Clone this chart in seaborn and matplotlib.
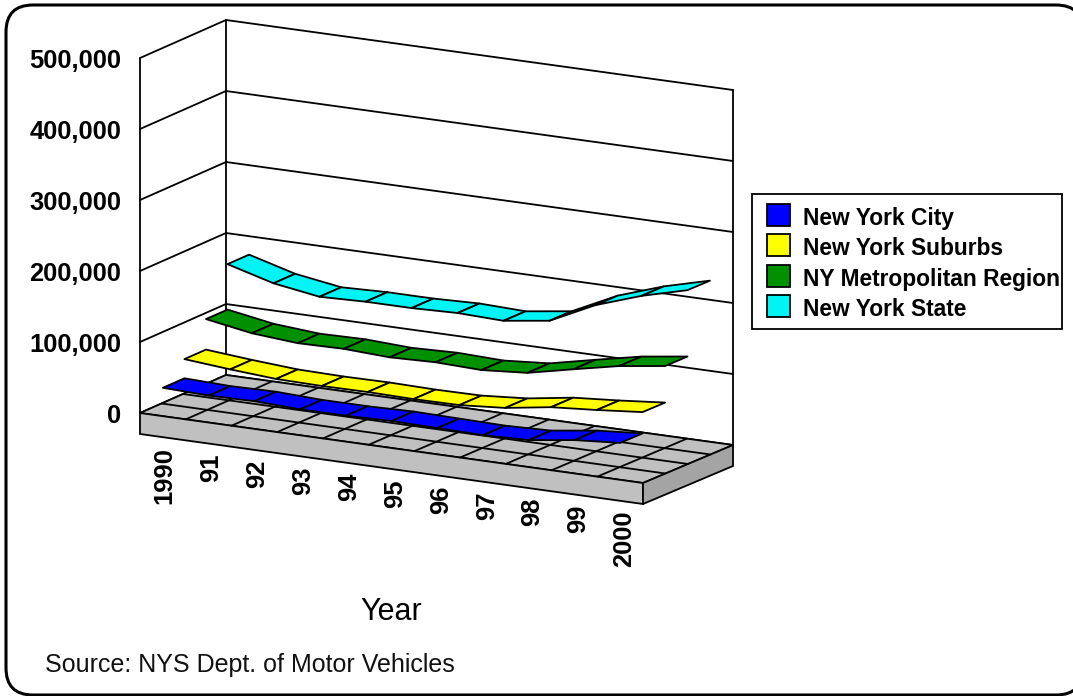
import matplotlib
matplotlib.use("Agg")
import matplotlib.pyplot as plt
from matplotlib.patches import FancyBboxPatch, Rectangle, Polygon
import numpy as np
import seaborn as sns

years = ["1990", "91", "92", "93", "94", "95", "96", "97", "98", "99", "2000"]
series_names = ["New York City", "New York Suburbs", "NY Metropolitan Region", "New York State"]
series_colors = ["#0000FF", "#FFFF00", "#009000", "#00F4F4"]
new_york_city = [40000, 38000, 39000, 36500, 36500, 38000, 37000, 36000, 38000, 47000, 52000]
new_york_suburbs = [67000, 61500, 57000, 56000, 56500, 55500, 56000, 61000, 71000, 76000, 82000]
ny_metro = [110000, 99000, 94000, 95000, 92000, 94000, 92000, 97000, 111000, 124500, 133500]
new_york_state = [174000, 156000, 146000, 148000, 148000, 150000, 148000, 157000, 188000, 210000, 227000]
all_series = [new_york_city, new_york_suburbs, ny_metro, new_york_state]
y_ticks = [0, 100000, 200000, 300000, 400000, 500000]

sns.set_theme(style="white")
plt.rcParams["font.family"] = ["Liberation Sans", "DejaVu Sans"]

fig = plt.figure(figsize=(10.73, 6.96), dpi=100)
ax = fig.add_axes([0, 0, 1, 1])
ax.set_xlim(0, 1073)
ax.set_ylim(696, 0)
ax.axis("off")

N = len(years)
ROWS = len(all_series)
PX_PER_UNIT = 71.0 / 100000
LW = 1.3


def project(u, d, v=0.0):
    """Oblique projection: u along years (0..N), d along depth (0..ROWS), v value."""
    fu, fd = u / N, d / ROWS
    x = 140 + 503 * fu + (86 + 4 * fu) * fd
    y = 413 + 70 * fu - 38 * fd - v * PX_PER_UNIT
    return x, y


def line(points, lw=LW, z=2, color="black"):
    xs = [p[0] for p in points]
    ys = [p[1] for p in points]
    sns.lineplot(x=xs, y=ys, sort=False, estimator=None, color=color, lw=lw,
                 zorder=z, ax=ax, legend=False, solid_capstyle="round")


# frame (its right edge runs off the image)
ax.add_patch(FancyBboxPatch((6, 5), 1077, 690, boxstyle="round,pad=0,rounding_size=27",
                            fc="white", ec="black", lw=2.2, zorder=0, clip_on=True))

# walls
for v in y_ticks:
    line([project(0, 0, v), project(0, ROWS, v), project(N, ROWS, v)], z=2)
line([project(0, 0, 0), project(0, 0, y_ticks[-1])], z=2)
line([project(0, ROWS, 0), project(0, ROWS, y_ticks[-1])], z=2)
line([project(N, ROWS, 0), project(N, ROWS, y_ticks[-1])], z=2)

# slab
SLAB = 21
fl, fr = project(0, 0), project(N, 0)
br, bl = project(N, ROWS), project(0, ROWS)
ax.add_patch(Polygon([fl, fr, br, bl], closed=True, fc="#C0C0C0", ec="black", lw=LW, zorder=3))
ax.add_patch(Polygon([fl, fr, (fr[0], fr[1] + SLAB), (fl[0], fl[1] + SLAB)], closed=True,
                     fc="#C0C0C0", ec="black", lw=LW, zorder=3))
ax.add_patch(Polygon([fr, br, (br[0], br[1] + SLAB), (fr[0], fr[1] + SLAB)], closed=True,
                     fc="#A4A4A4", ec="black", lw=LW, zorder=3))
for i in range(1, N):
    line([project(i, 0), project(i, ROWS)], lw=LW, z=4)
for d in range(1, ROWS):
    line([project(0, d), project(N, d)], lw=LW, z=4)

# ribbons, back row first
for d in reversed(range(ROWS)):
    vals = all_series[d]
    for i in range(N - 1):
        u0, u1 = i + 0.5, i + 1.5
        quad = [project(u0, d, vals[i]), project(u1, d, vals[i + 1]),
                project(u1, d + 1, vals[i + 1]), project(u0, d + 1, vals[i])]
        ax.add_patch(Polygon(quad, closed=True, fc=series_colors[d], ec="black",
                             lw=LW, joinstyle="round", zorder=10 + ROWS - d))

# y labels
for v in y_ticks:
    x, y = project(0, 0, v)
    ax.text(121, y + 3, f"{v:,}", ha="right", va="center", fontsize=18.4, fontweight="bold",
            color="black", zorder=20)

# x labels
for i, lab in enumerate(years):
    x, y = project(i + 0.5, 0)
    ax.text(x + 2 + 0.24 * i, y + 31, lab, rotation=90, ha="center", va="top", fontsize=18.4,
            fontweight="bold", color="black", zorder=20)

ax.text(391, 612, "Year", ha="center", va="center", fontsize=22, color="black")
ax.text(45, 665, "Source: NYS Dept. of Motor Vehicles", ha="left", va="center",
        fontsize=18, color="#111111")

# legend
ax.add_patch(Rectangle((752, 194), 310, 135, fc="white", ec="black", lw=1.3, zorder=8))
for k, (name, col) in enumerate(zip(series_names, series_colors)):
    top = 203.5 + 30.6 * k
    ax.add_patch(Rectangle((766.5, top), 23, 22, fc=col, ec="black", lw=1.3, zorder=9))
    ax.text(803, top + 14.5, name, ha="left", va="center", fontsize=16.4, fontweight="bold",
            color="black", zorder=21)

fig.savefig("out.png", dpi=100)
